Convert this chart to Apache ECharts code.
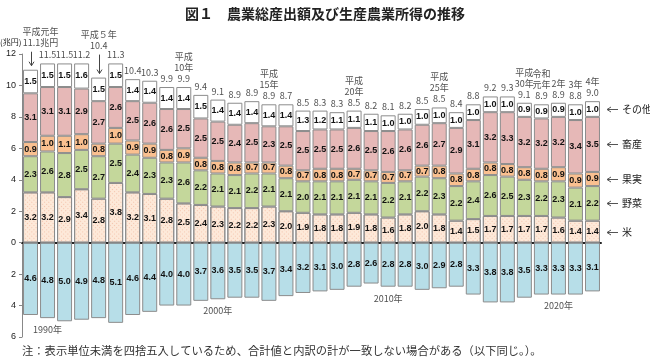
<!DOCTYPE html>
<html><head><meta charset="utf-8">
<script src="https://cdn.jsdelivr.net/npm/echarts@6/dist/echarts.min.js"></script>
<style>html,body{margin:0;padding:0;background:#fff}#c{width:650px;height:361px}</style>
</head><body><div id="c"></div>
<script>
const years = [1989,1990,1991,1992,1993,1994,1995,1996,1997,1998,1999,2000,2001,2002,2003,2004,2005,2006,2007,2008,2009,2010,2011,2012,2013,2014,2015,2016,2017,2018,2019,2020,2021,2022];
const rice = [3.2,3.2,2.9,3.4,2.8,3.8,3.2,3.1,2.8,2.5,2.4,2.3,2.2,2.2,2.3,2.0,1.9,1.8,1.8,1.9,1.8,1.6,1.8,2.0,1.8,1.4,1.5,1.7,1.7,1.7,1.7,1.6,1.4,1.4];
const vegetables = [2.3,2.6,2.8,2.5,2.7,2.5,2.4,2.3,2.3,2.6,2.2,2.1,2.1,2.2,2.1,2.1,2.0,2.1,2.1,2.1,2.1,2.2,2.1,2.2,2.3,2.2,2.4,2.6,2.5,2.3,2.2,2.3,2.1,2.2];
const fruit = [0.9,1.0,1.1,1.0,0.8,1.0,0.9,0.9,0.8,0.9,0.8,0.8,0.8,0.7,0.7,0.8,0.7,0.8,0.8,0.7,0.7,0.7,0.7,0.7,0.8,0.8,0.8,0.8,0.8,0.8,0.8,0.9,0.9,0.9];
const livestock = [3.1,3.1,3.1,2.9,2.7,2.6,2.5,2.6,2.6,2.5,2.5,2.5,2.4,2.5,2.3,2.5,2.5,2.5,2.5,2.6,2.5,2.6,2.6,2.6,2.7,2.9,3.1,3.2,3.3,3.2,3.2,3.2,3.4,3.5];
const other = [1.5,1.5,1.5,1.6,1.5,1.5,1.4,1.4,1.4,1.4,1.5,1.4,1.4,1.4,1.4,1.4,1.3,1.2,1.1,1.1,1.1,1.0,1.0,1.0,1.0,1.0,1.0,1.0,1.0,0.9,0.9,0.9,1.0,1.0];
const totals = [11.1,11.5,11.5,11.2,10.4,11.3,10.4,10.3,9.9,9.9,9.4,9.1,8.9,8.9,8.9,8.7,8.5,8.3,8.3,8.5,8.2,8.1,8.2,8.5,8.5,8.4,8.8,9.2,9.3,9.1,8.9,8.9,8.8,9.0];
const income = [4.6,4.8,5.0,4.9,4.8,5.1,4.6,4.4,4.0,4.0,3.7,3.6,3.5,3.5,3.7,3.4,3.2,3.1,3.0,2.8,2.6,2.8,2.8,3.0,2.9,2.8,3.3,3.8,3.8,3.5,3.3,3.3,3.3,3.1];
const eraLabels = {0:['平成元年'],4:['平成５年'],9:['平成','10年'],14:['平成','15年'],19:['平成','20年'],24:['平成','25年'],29:['平成','30年'],30:['令和','元年'],31:['2年'],32:['3年'],33:['4年']};
const totalUnit = {0:'兆円'};
const arrowBars = {0:14, 4:19};
const decadeLabels = {1:'1990年',11:'2000年',21:'2010年',31:'2020年'};
const seriesNames = ['米','野菜','果実','畜産','その他'];

const fontJP = '"Noto Sans CJK JP","Noto Sans",sans-serif';
const fontVal = '"Liberation Sans",Arial,sans-serif';
const stacks = [rice, vegetables, fruit, livestock, other];
const colors = ['#fde9d9','#c4d79b','#fac090','#e6b8b7','#ffffff'];
const sums = years.map((_, i) => stacks.reduce((s, a) => s + a[i], 0));

const valLabel = {show:true, position:'inside', fontSize:9, fontWeight:'bold', fontFamily:fontVal, color:'#111', formatter: p => Math.abs(p.value).toFixed(1)};
const border = {borderColor:'#8c8c8c', borderWidth:1};

const series = stacks.map((arr, k) => ({
  name: seriesNames[k], type:'bar', stack:'a', barCategoryGap:'12%',
  data: arr,
  itemStyle: Object.assign({color: colors[k]}, border, k === 0 ? {decal:{symbol:'rect', symbolSize:1, color:'rgba(232,150,120,0.45)', dashArrayX:[1,2], dashArrayY:[1,2], rotation:Math.PI/4}} : {}),
  label: valLabel, silent:true
}));
series.push({
  name:'生産農業所得', type:'bar', stack:'a',
  data: income.map(v => -v),
  itemStyle: Object.assign({color:'#b7dee8'}, border),
  label: valLabel, silent:true
});
series.push({
  name:'合計', type:'scatter', symbolSize:0, silent:true,
  data: sums.map((s, i) => ({value:[i, s], label:{distance: arrowBars[i] !== undefined ? arrowBars[i] + 8 : 3, offset: i === 0 ? [10, 0] : [0, 0]}})),
  label: {show:true, position:'top', fontSize:9, fontFamily:fontJP, color:'#222', lineHeight:11,
    formatter: p => {
      const i = p.dataIndex;
      const lines = (eraLabels[i] || []).slice();
      lines.push(totals[i].toFixed(1) + (totalUnit[i] || ''));
      return lines.join('\n');
    }}
});
series.push({
  name:'年', type:'scatter', symbolSize:0, silent:true,
  data: income.map((v, i) => decadeLabels[i] ? [i, -v] : [i, null]),
  label: {show:true, position:'bottom', distance:7, fontSize:9, fontFamily:fontJP, color:'#222',
    formatter: p => decadeLabels[p.dataIndex] || ''}
});

const chart = echarts.init(document.getElementById('c'), null, {renderer:'canvas'});
const baseGraphic = [
  {type:'text', left:0, top:38, style:{text:'(兆円)', fontSize:8, fontFamily:fontJP, fill:'#222'}},
  {type:'text', left:22, top:345, style:{text:'注：表示単位未満を四捨五入しているため、合計値と内訳の計が一致しない場合がある（以下同じ。）。', fontSize:11.3, fontFamily:fontJP, fill:'#333'}}
];
chart.setOption({
  animation:false,
  backgroundColor:'#fff',
  title:{text:'図１　農業総産出額及び生産農業所得の推移', left:'center', top:2,
    textStyle:{fontSize:14, fontWeight:'bold', fontFamily:fontJP, color:'#222'}},
  grid:{left:22, right:49, top:54, bottom:24, containLabel:false},
  xAxis:{type:'category', data:years, axisLabel:{show:false}, axisTick:{show:false},
    axisLine:{onZero:true, lineStyle:{color:'#222', width:2}}},
  yAxis:{type:'value', min:-6, max:12, interval:2, splitLine:{show:false},
    axisLine:{show:true, lineStyle:{color:'#888', width:1}},
    axisTick:{show:true, length:3, lineStyle:{color:'#888'}},
    axisLabel:{fontSize:9, fontFamily:fontVal, color:'#222', margin:6, formatter: v => String(Math.abs(v))}},
  graphic: baseGraphic,
  series: series
});

// annotation arrows and right-side legend
const g = [];
Object.keys(arrowBars).forEach(k => {
  const i = +k;
  const p = chart.convertToPixel({xAxisIndex:0, yAxisIndex:0}, [i, sums[i]]);
  const x = Math.round(p[0]) + 0.5, y2 = p[1] - 4, y1 = y2 - arrowBars[i];
  g.push({type:'line', shape:{x1:x, y1:y1, x2:x, y2:y2}, style:{stroke:'#444', lineWidth:1}});
  g.push({type:'polyline', shape:{points:[[x-2.5, y2-4],[x, y2],[x+2.5, y2-4]]}, style:{stroke:'#444', lineWidth:1, fill:null}});
});
const last = years.length - 1;
let cum = 0;
stacks.forEach((arr, k) => {
  const mid = cum + arr[last] / 2; cum += arr[last];
  const p = chart.convertToPixel({xAxisIndex:0, yAxisIndex:0}, [last, mid]);
  const y = Math.round(p[1]) + 0.5;
  g.push({type:'line', shape:{x1:607, y1:y, x2:618, y2:y}, style:{stroke:'#555', lineWidth:1}});
  g.push({type:'polyline', shape:{points:[[611, y-2.5],[607, y],[611, y+2.5]]}, style:{stroke:'#555', lineWidth:1, fill:null}});
  g.push({type:'text', x:622, y:y, style:{text:seriesNames[k], fontSize:10, fontFamily:fontJP, fill:'#222', verticalAlign:'middle'}});
});
chart.setOption({graphic: baseGraphic.concat(g)});
</script></body></html>
